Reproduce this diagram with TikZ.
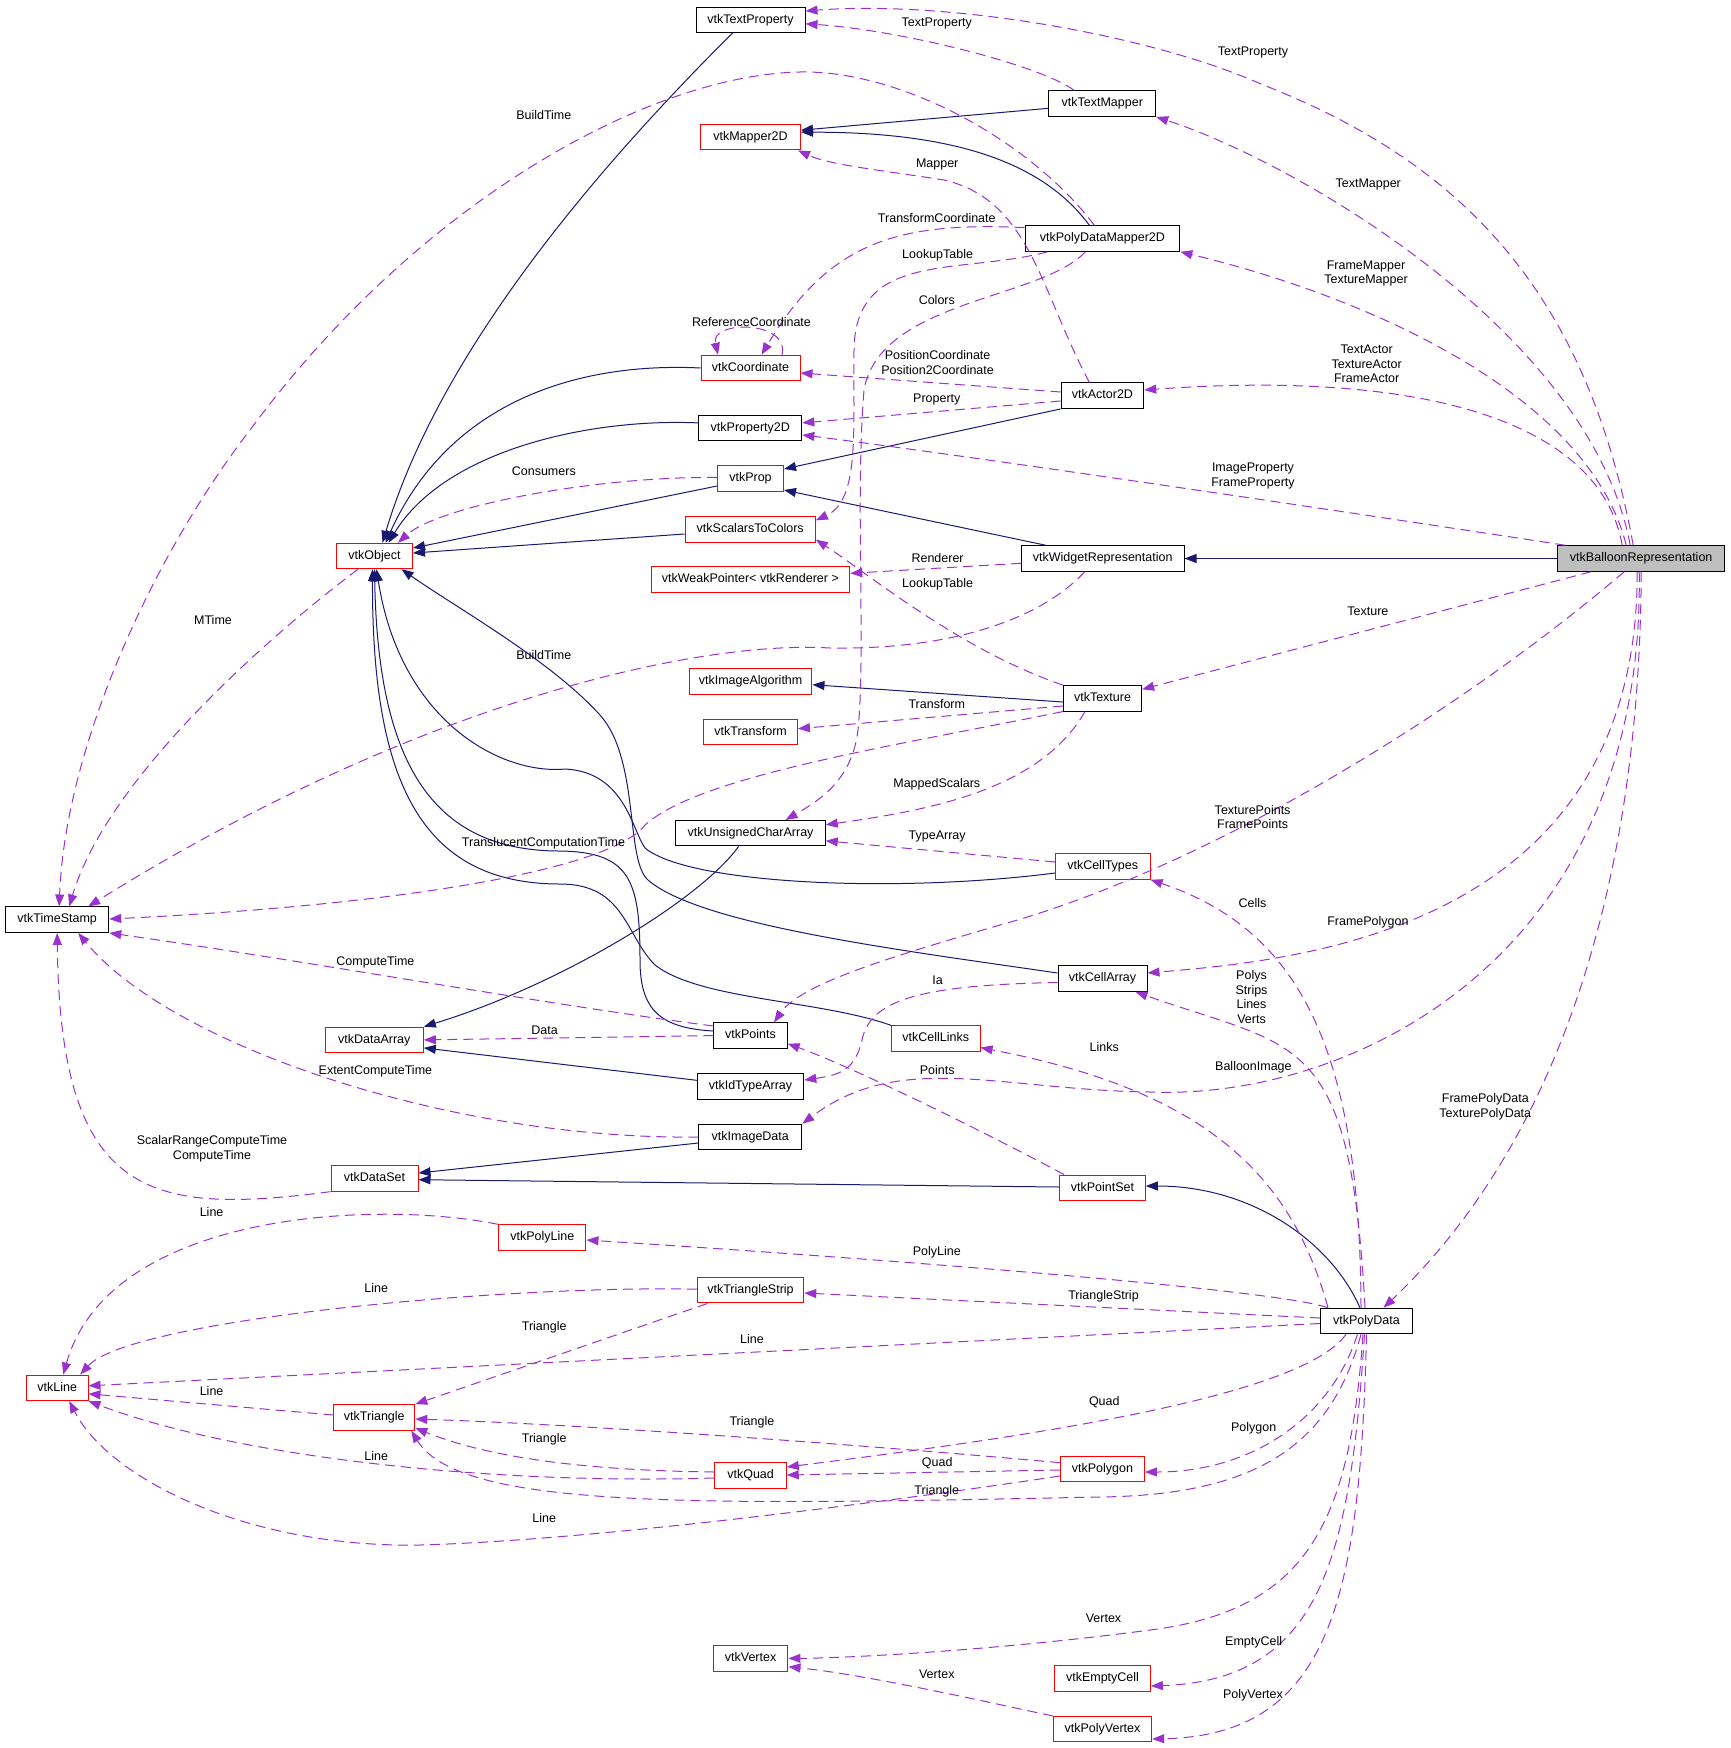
\documentclass[tikz,border=0pt]{standalone}
\usepackage{fontspec}
\setmainfont{Liberation Sans}
\usetikzlibrary{arrows.meta}
\definecolor{navy}{HTML}{191970}
\definecolor{purp}{HTML}{9A32CD}
\definecolor{boxgray}{HTML}{BFBFBF}
\newcommand{\fsz}{\fontsize{12.5}{14.6}\selectfont}
\tikzset{
  nd/.style={draw=black, fill=white, line width=1pt, inner sep=0pt, minimum height=25.5pt, text height=9pt, text depth=2.6pt, font=\fsz},
  rd/.style={nd, draw=red},
  gd/.style={nd, fill=boxgray},
  inh/.style={draw=navy, line width=1pt, -{Triangle[length=12pt,width=9pt]}},
  use/.style={draw=purp, line width=1pt, dash pattern=on 10pt off 6pt, -{Triangle[length=12pt,width=9pt]}},
  lbl/.style={font=\fsz, align=center, inner sep=0pt},
}
\begin{document}
\begin{tikzpicture}[x=1pt, y=-1pt]
\useasboundingbox (0,0) rectangle (1731,1748);
% nodes
\node[nd, minimum width=109pt] (tprop) at (750.5,19.8) {vtkTextProperty};
\node[nd, minimum width=106.7pt] (tmap) at (1102.3,103.7) {vtkTextMapper};
\node[rd, minimum width=100pt] (map2d) at (750.5,137.2) {vtkMapper2D};
\node[nd, minimum width=154.8pt] (pdm) at (1102.4,238.6) {vtkPolyDataMapper2D};
\node[rd, minimum width=99pt] (coord) at (750.5,368) {vtkCoordinate};
\node[nd, minimum width=82.7pt] (actor) at (1102.4,395.7) {vtkActor2D};
\node[nd, minimum width=103pt] (prop2d) at (750.3,427.9) {vtkProperty2D};
\node[rd, minimum width=66pt] (prop) at (750.5,478.5) {vtkProp};
\node[rd, minimum width=130.3pt] (stc) at (750.2,529.3) {vtkScalarsToColors};
\node[rd, minimum width=198.8pt] (weak) at (750.4,579.7) {vtkWeakPointer< vtkRenderer >};
\node[nd, minimum width=162.6pt] (widget) at (1102.7,558.5) {vtkWidgetRepresentation};
\node[gd, minimum width=167pt] (balloon) at (1641.2,558.5) {vtkBalloonRepresentation};
\node[rd, minimum width=76pt] (obj) at (374.5,556) {vtkObject};
\node[nd, minimum width=103pt] (ts) at (57.2,919.7) {vtkTimeStamp};
\node[rd, minimum width=98pt] (darr) at (374.3,1039.9) {vtkDataArray};
\node[rd, minimum width=122.7pt] (ialg) at (750.6,681.5) {vtkImageAlgorithm};
\node[rd, minimum width=93.7pt] (xform) at (750.6,732) {vtkTransform};
\node[nd, minimum width=78.3pt] (tex) at (1102.5,698.3) {vtkTexture};
\node[nd, minimum width=149.3pt] (uca) at (750.6,833.2) {vtkUnsignedCharArray};
\node[rd, minimum width=94.6pt] (ctypes) at (1102.7,866.5) {vtkCellTypes};
\node[nd, minimum width=89pt] (carr) at (1102.5,978.6) {vtkCellArray};
\node[nd, minimum width=73.3pt] (pts) at (750.5,1035.6) {vtkPoints};
\node[rd, minimum width=88.4pt] (clinks) at (935.8,1038.6) {vtkCellLinks};
\node[nd, minimum width=106.5pt] (idarr) at (750.5,1086.3) {vtkIdTypeArray};
\node[nd, minimum width=103pt] (idata) at (750.3,1137) {vtkImageData};
\node[rd, minimum width=87pt] (dset) at (374.5,1178.4) {vtkDataSet};
\node[rd, minimum width=87.3pt] (pline) at (542.3,1237.6) {vtkPolyLine};
\node[rd, minimum width=61.6pt] (line) at (57.2,1387.8) {vtkLine};
\node[rd, minimum width=81pt] (tri) at (374.3,1417.4) {vtkTriangle};
\node[rd, minimum width=85.8pt] (pset) at (1102.4,1187.8) {vtkPointSet};
\node[rd, minimum width=106.5pt] (tstrip) at (750.5,1290.2) {vtkTriangleStrip};
\node[rd, minimum width=71.3pt] (quad) at (750.6,1475.7) {vtkQuad};
\node[rd, minimum width=84pt] (pgon) at (1102.4,1469) {vtkPolygon};
\node[rd, minimum width=74.7pt] (vert) at (750.6,1658.4) {vtkVertex};
\node[rd, minimum width=95.7pt] (ecell) at (1102.5,1678.4) {vtkEmptyCell};
\node[rd, minimum width=98.3pt] (pvert) at (1102.5,1729.2) {vtkPolyVertex};
\node[nd, minimum width=92.3pt] (pdata) at (1366.5,1321) {vtkPolyData};

% inheritance edges
\draw[inh] ([xshift=-18pt]tprop.south) .. controls (600,165) and (440,350) .. ([xshift=8pt]obj.north);
\draw[inh] (coord.west) .. controls (580,362) and (450,400) .. ([xshift=11pt]obj.north);
\draw[inh] ([yshift=5pt]prop2d.west) .. controls (590,418) and (445,450) .. ([xshift=14pt]obj.north);
\draw[inh] ([yshift=-7.5pt]prop.west) -- ([yshift=8pt]obj.east);
\draw[inh] ([yshift=-4.7pt]stc.west) -- ([yshift=3pt]obj.east);
\draw[inh] ([yshift=-4.6pt]tmap.west) -- ([yshift=7pt]map2d.east);
\draw[inh] ([xshift=-13pt]pdm.north) .. controls (1045,165) and (960,132) .. ([yshift=5pt]map2d.east);
\draw[inh] (actor.south west) -- ([yshift=9.5pt]prop.east);
\draw[inh] ([xshift=-57pt]widget.north) -- ([yshift=-11.5pt]prop.east);
\draw[inh] (balloon.west) -- (widget.east);
\draw[inh] ([yshift=-3.7pt]tex.west) -- ([yshift=-3.2pt]ialg.east);
\draw[inh] ([yshift=-6.5pt]ctypes.west) .. controls (900,893) and (690,885) .. (645,848) .. controls (632,830) and (625,772) .. (565,769) .. controls (500,775) and (400,720) .. ([xshift=2pt]obj.south);
\draw[inh] ([yshift=4.6pt]pts.west) .. controls (660,1028) and (640,1010) .. (640,960) .. controls (640,880) and (630,852) .. (560,851) .. controls (430,851) and (378,760) .. (obj.south);
\draw[inh] (clinks.north west) .. controls (820,1000) and (700,1000) .. (655,965) .. controls (625,935) and (625,884) .. (560,884) .. controls (420,884) and (372,780) .. ([xshift=-2pt]obj.south);
\draw[inh] ([yshift=5.6pt]carr.west) .. controls (900,950) and (700,925) .. (648,880) .. controls (625,860) and (640,760) .. (600,715) .. controls (550,660) and (460,610) .. ([xshift=27pt]obj.south);
\draw[inh] ([xshift=-12pt]uca.south) .. controls (700,900) and (560,985) .. (darr.north east);
\draw[inh] ([yshift=6pt]idarr.west) -- ([yshift=-8pt]darr.east);
\draw[inh] ([yshift=-6pt]idata.west) -- ([yshift=5.4pt]dset.east);
\draw[inh] ([yshift=0.8pt]pset.west) -- ([yshift=-1.3pt]dset.east);
\draw[inh] ([xshift=-6.5pt]pdata.north) .. controls (1330,1240) and (1250,1186) .. ([yshift=1.8pt]pset.east);

% usage edges
\draw[use] ([xshift=-8pt]balloon.north) .. controls (1585,280) and (1450,158) .. (1261,84) .. controls (1150,35) and (950,0) .. ([yshift=8.8pt]tprop.east);
\draw[use] ([xshift=-11pt]balloon.north) .. controls (1590,330) and (1290,160) .. (tmap.south east);
\draw[use] ([xshift=-15pt]balloon.north) .. controls (1590,400) and (1380,300) .. (pdm.south east);
\draw[use] ([xshift=-19pt]balloon.north) .. controls (1600,420) and (1420,370) .. ([yshift=5.7pt]actor.east);
\draw[use] ([xshift=8pt]balloon.north west) .. controls (1400,520) and (1000,460) .. ([yshift=-7pt]prop2d.east);
\draw[use] ([xshift=-50pt]balloon.south) -- ([yshift=9pt]tex.east);
\draw[use] ([xshift=-17pt]balloon.south) .. controls (1450,720) and (1200,870) .. (1000,925) .. controls (880,960) and (800,985) .. ([xshift=23.5pt]pts.north);
\draw[use] ([xshift=-4pt]balloon.south) .. controls (1638,930) and (1300,960) .. ([yshift=5.6pt]carr.east);
\draw[use] ([xshift=-2pt]balloon.south) .. controls (1645,960) and (1350,1100) .. (1150,1092) .. controls (1000,1090) and (900,1050) .. (idata.north east);
\draw[use] (balloon.south) .. controls (1640,900) and (1550,1150) .. ([xshift=17pt]pdata.north);
\draw[use] ([yshift=11pt]pdm.west) .. controls (900,222) and (830,240) .. ([xshift=11pt]coord.north);
\draw[use] ([xshift=-55pt]pdm.south) .. controls (960,275) and (855,250) .. (854,350) .. controls (853,430) and (860,500) .. ([yshift=9pt]stc.east);
\draw[use] ([xshift=-17pt]pdm.south) .. controls (1040,300) and (880,300) .. (864,390) .. controls (855,500) and (866,650) .. (858,730) .. controls (852,780) and (820,800) .. ([xshift=35pt]uca.north);
\draw[use] ([xshift=-13pt]actor.north) .. controls (1040,290) and (1030,200) .. (944,180) .. controls (880,170) and (830,165) .. ([xshift=-3pt]map2d.south east);
\draw[use] ([yshift=3.7pt]actor.west) -- ([yshift=-5pt]coord.east);
\draw[use] ([yshift=-5.3pt]actor.west) -- ([yshift=5pt]prop2d.east);
\draw[use] ([xshift=-28pt]tmap.north) .. controls (1040,65) and (900,30) .. ([yshift=-4pt]tprop.east);
\draw[use] ([xshift=-8pt]pdm.north) .. controls (1030,140) and (900,70) .. (800,72) .. controls (650,75) and (420,200) .. (250,430) .. controls (150,560) and (65,750) .. ([xshift=2pt]ts.north);
\draw[use] ([xshift=-16.5pt]obj.south) .. controls (290,620) and (110,770) .. ([xshift=12pt]ts.north);
\draw[use] ([xshift=-18pt]widget.south) .. controls (1040,620) and (950,650) .. (830,648) .. controls (700,640) and (420,700) .. ([xshift=31pt]ts.north);
\draw[use] (tex.south west) .. controls (900,745) and (700,775) .. (645,825) .. controls (610,870) and (400,905) .. ([yshift=0.7pt]ts.east);
\draw[use] ([yshift=9.6pt]pts.west) .. controls (550,1005) and (300,960) .. (ts.south east);
\draw[use] (idata.west) .. controls (450,1140) and (170,1045) .. ([xshift=21pt]ts.south);
\draw[use] (dset.south west) .. controls (150,1215) and (60,1200) .. (ts.south);
\draw[use] ([yshift=1pt]prop.west) .. controls (600,476) and (440,505) .. ([xshift=23.5pt]obj.north);
\draw[use] ([xshift=31.5pt]coord.north) .. controls (790,320) and (710,320) .. ([xshift=-32.5pt]coord.north);
\draw[use] ([yshift=-4.8pt]widget.west) -- ([yshift=6.4pt]weak.east);
\draw[use] (tex.north west) .. controls (960,650) and (870,575) .. ([yshift=-10.3pt]stc.east);
\draw[use] ([yshift=-7.7pt]tex.west) -- ([yshift=3.3pt]xform.east);
\draw[use] ([xshift=-17.5pt]tex.south) .. controls (1040,790) and (930,810) .. ([yshift=8.4pt]uca.east);
\draw[use] ([yshift=4.5pt]ctypes.west) -- ([yshift=-7.6pt]uca.east);
\draw[use] ([yshift=-3.9pt]carr.west) .. controls (920,985) and (870,1000) .. (862,1040) .. controls (855,1070) and (840,1075) .. ([yshift=6.3pt]idarr.east);
\draw[use] ([xshift=5pt]pset.north west) .. controls (1000,1140) and (860,1070) .. ([yshift=-8pt]pts.east);
\draw[use] (pts.west) -- (darr.east);
\draw[use] ([xshift=-5.5pt]pdata.north) .. controls (1360,1050) and (1300,930) .. (ctypes.south east);
\draw[use] ([xshift=-1.5pt]pdata.north) .. controls (1350,1030) and (1300,1050) .. ([xshift=-12pt]carr.south east);
\draw[use] ([xshift=-38.5pt]pdata.north) .. controls (1290,1170) and (1200,1090) .. ([yshift=-9pt]clinks.east);
\draw[use] ([xshift=8pt]pdata.north west) .. controls (1280,1290) and (900,1260) .. ([yshift=-2.4pt]pline.east);
\draw[use] ([yshift=3pt]pdata.west) -- ([yshift=-2.8pt]tstrip.east);
\draw[use] ([yshift=-2.5pt]pdata.west) -- ([yshift=2pt]line.east);
\draw[use] ([xshift=-20.5pt]pdata.south) .. controls (1300,1400) and (1000,1440) .. ([yshift=8.7pt]quad.east);
\draw[use] ([xshift=-9pt]pdata.south) .. controls (1330,1420) and (1250,1472) .. ([yshift=-3pt]pgon.east);
\draw[use] ([xshift=-5.5pt]pdata.south) .. controls (1330,1450) and (1250,1495) .. (1100,1497) .. controls (700,1505) and (460,1510) .. ([xshift=-4pt]tri.south east);
\draw[use] ([xshift=-3.5pt]pdata.south) .. controls (1350,1520) and (1310,1610) .. (1150,1630) .. controls (1000,1650) and (850,1658) .. (vert.east);
\draw[use] ([xshift=-2pt]pdata.south) .. controls (1350,1560) and (1320,1680) .. ([yshift=-7.6pt]ecell.east);
\draw[use] (pdata.south) .. controls (1360,1600) and (1330,1735) .. ([yshift=-9.8pt]pvert.east);
\draw[use] (pvert.north west) .. controls (1000,1705) and (870,1675) .. ([yshift=-8.4pt]vert.east);
\draw[use] ([yshift=6.3pt]pgon.west) .. controls (900,1448) and (600,1425) .. ([yshift=-1.6pt]tri.east);
\draw[use] ([yshift=-1pt]pgon.west) -- ([yshift=0.7pt]quad.east);
\draw[use] ([yshift=-7pt]pgon.west) .. controls (900,1500) and (600,1540) .. (420,1545) .. controls (250,1548) and (110,1480) .. ([xshift=12pt]line.south);
\draw[use] ([yshift=1pt]tstrip.west) .. controls (500,1285) and (130,1320) .. ([xshift=23pt]line.north);
\draw[use] ([xshift=-43pt]tstrip.south) -- (tri.north east);
\draw[use] (pline.north west) .. controls (380,1200) and (110,1210) .. ([xshift=6pt]line.north);
\draw[use] ([yshift=2.4pt]tri.west) -- ([yshift=-6pt]line.east);
\draw[use] ([yshift=-2.3pt]quad.west) .. controls (480,1485) and (230,1455) .. (line.south east);
\draw[use] ([yshift=3.7pt]quad.west) .. controls (550,1470) and (470,1450) .. ([yshift=-10.6pt]tri.east);

% labels
\node[lbl] (l1) at (543.8,115) {BuildTime};
\node[lbl] (l2) at (543.8,471) {Consumers};
\node[lbl] (l3) at (936.8,23.3) {TextProperty};
\node[lbl] (l4) at (937.2,164.6) {Mapper};
\node[lbl] (l5) at (936.8,218) {TransformCoordinate};
\node[lbl] (l6) at (937.6,255.3) {LookupTable};
\node[lbl] (l7) at (936.8,300) {Colors};
\node[lbl] (l8) at (751.5,322.2) {ReferenceCoordinate};
\node[lbl] (l9) at (937.6,362.8) {PositionCoordinate\\Position2Coordinate};
\node[lbl] (l10) at (936.8,399.5) {Property};
\node[lbl] (l11) at (937.6,558) {Renderer};
\node[lbl] (l12) at (937.6,584.4) {LookupTable};
\node[lbl] (l13) at (1253,52.4) {TextProperty};
\node[lbl] (l14) at (1368.2,184.5) {TextMapper};
\node[lbl] (l15) at (1366,273.3) {FrameMapper\\TextureMapper};
\node[lbl] (l16) at (1366.7,364) {TextActor\\TextureActor\\FrameActor};
\node[lbl] (l17) at (1253,475.7) {ImageProperty\\FrameProperty};
\node[lbl] (l18) at (213,620) {MTime};
\node[lbl] (l19) at (543.8,654.9) {BuildTime};
\node[lbl] (l20) at (543.5,843) {TranslucentComputationTime};
\node[lbl] (l21) at (375.4,962.2) {ComputeTime};
\node[lbl] (l22) at (544.6,1030.3) {Data};
\node[lbl] (l23) at (375.4,1071.2) {ExtentComputeTime};
\node[lbl] (l24) at (212,1149) {ScalarRangeComputeTime\\ComputeTime};
\node[lbl] (l25) at (936.8,704.2) {Transform};
\node[lbl] (l26) at (936.8,784.2) {MappedScalars};
\node[lbl] (l27) at (937.2,836.3) {TypeArray};
\node[lbl] (l28) at (937.6,980.5) {Ia};
\node[lbl] (l29) at (1104.3,1047.1) {Links};
\node[lbl] (l30) at (937.2,1070) {Points};
\node[lbl] (l31) at (1367.9,611.2) {Texture};
\node[lbl] (l32) at (1252.6,817.1) {TexturePoints\\FramePoints};
\node[lbl] (l33) at (1252.6,902.8) {Cells};
\node[lbl] (l34) at (1367.9,922.4) {FramePolygon};
\node[lbl] (l35) at (1251.5,997.2) {Polys\\Strips\\Lines\\Verts};
\node[lbl] (l36) at (1253.4,1067) {BalloonImage};
\node[lbl] (l37) at (1485.3,1106.6) {FramePolyData\\TexturePolyData};
\node[lbl] (l38) at (211.6,1212.2) {Line};
\node[lbl] (l39) at (376.2,1288) {Line};
\node[lbl] (l40) at (544.2,1327.3) {Triangle};
\node[lbl] (l41) at (211.6,1391) {Line};
\node[lbl] (l42) at (544.2,1439.5) {Triangle};
\node[lbl] (l43) at (376.2,1456.3) {Line};
\node[lbl] (l44) at (544.2,1518.4) {Line};
\node[lbl] (l45) at (936.8,1252.2) {PolyLine};
\node[lbl] (l46) at (1103.5,1296) {TriangleStrip};
\node[lbl] (l47) at (751.9,1339.2) {Line};
\node[lbl] (l48) at (1104.3,1402.1) {Quad};
\node[lbl] (l49) at (751.9,1422) {Triangle};
\node[lbl] (l50) at (937.2,1463.1) {Quad};
\node[lbl] (l51) at (936.8,1491) {Triangle};
\node[lbl] (l52) at (1103.5,1618) {Vertex};
\node[lbl] (l53) at (936.8,1674.4) {Vertex};
\node[lbl] (l54) at (1253.7,1428) {Polygon};
\node[lbl] (l55) at (1253.7,1642) {EmptyCell};
\node[lbl] (l56) at (1253,1695.4) {PolyVertex};
\end{tikzpicture}
\end{document}
